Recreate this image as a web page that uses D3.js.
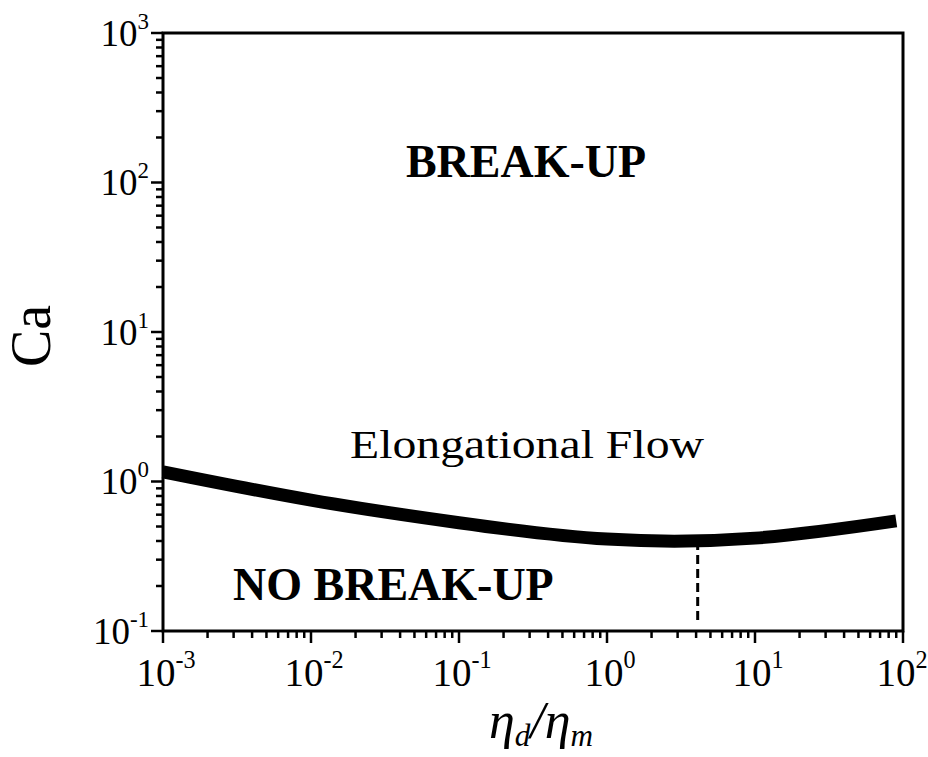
<!DOCTYPE html>
<html>
<head>
<meta charset="utf-8">
<script src="https://cdn.jsdelivr.net/npm/d3@7"></script>
<style>
  body { margin: 0; background: #fff; }
  svg { display: block; }
  text { font-family: "Liberation Serif", "Times New Roman", serif; fill: #000; }
</style>
</head>
<body>
<svg id="chart" width="928" height="757"></svg>
<script>
// viscosity ratio (x) and critical capillary number (y)
var ratio = [0.001, 0.01, 0.1, 1, 10, 90];
var caCrit = [1.16, 0.75, 0.53, 0.412, 0.418, 0.545];

// dashed marker at the minimum
var minRatio = 4.1;
var minCa = [0.4, 0.115];

var xDecades = [-3, -2, -1, 0, 1, 2];
var yDecades = [-1, 0, 1, 2, 3];

var svg = d3.select("#chart");
var margin = {top: 33, right: 25, bottom: 126, left: 163},
    width = +svg.attr("width") - margin.left - margin.right,
    height = +svg.attr("height") - margin.top - margin.bottom,
    g = svg.append("g").attr("transform", "translate(" + margin.left + "," + margin.top + ")");

var x = d3.scaleLog().domain([1e-3, 1e2]).range([0, width]);
var y = d3.scaleLog().domain([1e-1, 1e3]).range([height, 0]);

// minor ticks 2..9 in each decade
function minors(decs) {
  var out = [];
  decs.slice(0, -1).forEach(function(e) {
    for (var k = 2; k <= 9; k++) out.push(k * Math.pow(10, e));
  });
  return out;
}

// x ticks
g.append("g")
    .attr("transform", "translate(0," + height + ")")
    .selectAll("line")
    .data(minors(xDecades))
    .enter().append("line")
      .attr("x1", function(d) { return x(d); })
      .attr("x2", function(d) { return x(d); })
      .attr("y1", 0).attr("y2", 7)
      .attr("stroke", "#000").attr("stroke-width", 2.5);

g.append("g")
    .attr("transform", "translate(0," + height + ")")
    .selectAll("line")
    .data(xDecades)
    .enter().append("line")
      .attr("x1", function(d) { return x(Math.pow(10, d)); })
      .attr("x2", function(d) { return x(Math.pow(10, d)); })
      .attr("y1", 0).attr("y2", 12)
      .attr("stroke", "#000").attr("stroke-width", 2.5);

// y ticks
g.append("g").selectAll("line")
    .data(minors(yDecades))
    .enter().append("line")
      .attr("y1", function(d) { return y(d); })
      .attr("y2", function(d) { return y(d); })
      .attr("x1", 0).attr("x2", -7)
      .attr("stroke", "#000").attr("stroke-width", 2.5);

g.append("g").selectAll("line")
    .data(yDecades)
    .enter().append("line")
      .attr("y1", function(d) { return y(Math.pow(10, d)); })
      .attr("y2", function(d) { return y(Math.pow(10, d)); })
      .attr("x1", 0).attr("x2", -12)
      .attr("stroke", "#000").attr("stroke-width", 2.5);

// frame
g.append("rect")
    .attr("width", width).attr("height", height)
    .attr("fill", "none").attr("stroke", "#000").attr("stroke-width", 3);

// power-of-ten labels
function powLabel(sel) {
  sel.append("tspan").text("10");
  sel.append("tspan")
      .attr("font-size", "0.62em")
      .attr("dy", "-0.75em")
      .text(function(d) { return d < 0 ? "-" + (-d) : d; });
}

g.append("g").selectAll("text")
    .data(xDecades)
    .enter().append("text")
      .attr("x", function(d) { return x(Math.pow(10, d)) + (d === 2 ? -1 : 3); })
      .attr("y", height + 55)
      .attr("text-anchor", "middle")
      .style("font-size", "39px")
      .call(powLabel);

g.append("g").selectAll("text")
    .data(yDecades)
    .enter().append("text")
      .attr("x", -14)
      .attr("y", function(d) { return y(Math.pow(10, d)); })
      .attr("dy", "0.35em")
      .attr("text-anchor", "end")
      .style("font-size", "37px")
      .call(powLabel);

// critical curve
var line = d3.line()
    .x(function(d, i) { return x(ratio[i]); })
    .y(function(d) { return y(d); })
    .curve(d3.curveNatural);

g.append("path")
    .datum(caCrit)
    .attr("d", line)
    .attr("fill", "none")
    .attr("stroke", "#000")
    .attr("stroke-width", 13);

g.append("line")
    .attr("x1", x(minRatio)).attr("x2", x(minRatio))
    .attr("y1", y(minCa[0])).attr("y2", y(minCa[1]))
    .attr("stroke", "#000")
    .attr("stroke-width", 3)
    .attr("stroke-dasharray", "9,5");

// region labels
g.append("text")
    .attr("x", 363).attr("y", 144)
    .attr("text-anchor", "middle")
    .style("font-size", "46px").style("font-weight", "bold")
    .text("BREAK-UP");

g.append("text")
    .attr("x", 70).attr("y", 567)
    .style("font-size", "46px").style("font-weight", "bold")
    .text("NO BREAK-UP");

g.append("text")
    .attr("x", 187).attr("y", 425)
    .attr("textLength", 354)
    .attr("lengthAdjust", "spacingAndGlyphs")
    .style("font-size", "40px")
    .text("Elongational Flow");

// axis titles
var xl = svg.append("text")
    .attr("x", 541).attr("y", 738)
    .attr("text-anchor", "middle")
    .style("font-size", "52px").style("font-style", "italic");
xl.append("tspan").text("\u03b7");
xl.append("tspan").attr("font-size", "0.6em").attr("dy", "0.25em").text("d");
xl.append("tspan").attr("dy", "-0.15em").text("/\u03b7");
xl.append("tspan").attr("font-size", "0.6em").attr("dy", "0.25em").text("m");

svg.append("text")
    .attr("transform", "translate(50,336) rotate(-90)")
    .attr("text-anchor", "middle")
    .style("font-size", "56px")
    .text("Ca");
</script>
</body>
</html>
